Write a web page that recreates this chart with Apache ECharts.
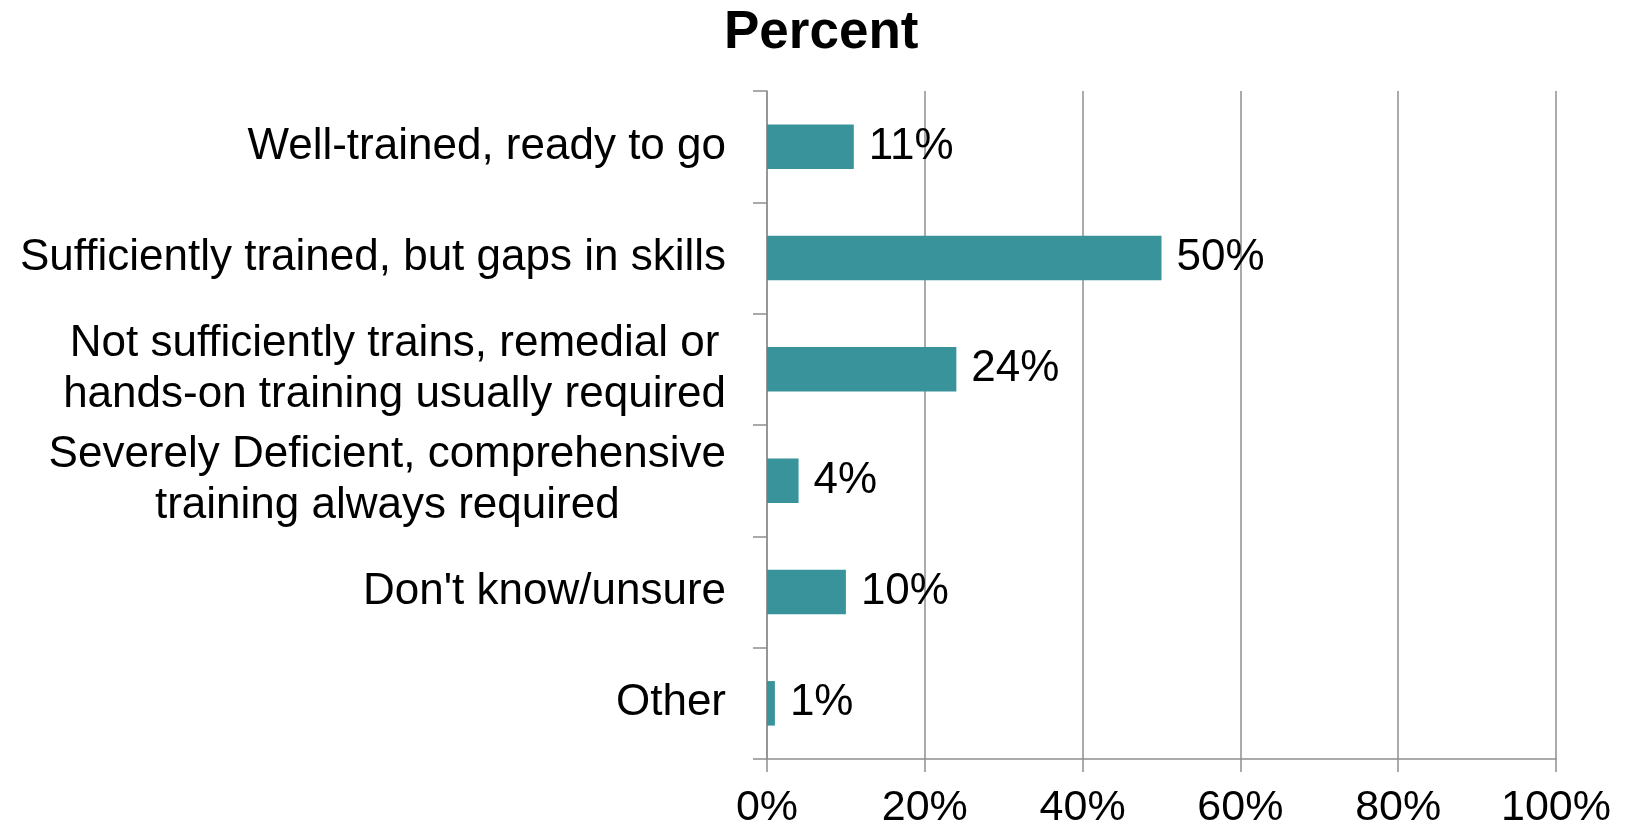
<!DOCTYPE html>
<html>
<head>
<meta charset="utf-8">
<title>Percent</title>
<script src="https://cdn.jsdelivr.net/npm/echarts@6/dist/echarts.min.js"></script>
<style>
  html, body { margin: 0; padding: 0; background: #fff; }
  #chart { width: 1627px; height: 830px; }
</style>
</head>
<body>
<div id="chart"></div>
<script>
// Survey answers, listed top to bottom
const categories = [
  'Well-trained, ready to go',
  'Sufficiently trained, but gaps in skills',
  'Not sufficiently trains, remedial or\nhands-on training usually required',
  'Severely Deficient, comprehensive\ntraining always required',
  "Don't know/unsure",
  'Other'
];
const percentValues = [11, 50, 24, 4, 10, 1];
const chartTitle = 'Percent';

const FONT = '"Liberation Sans", Arial, sans-serif';
const GRID_GRAY = '#8f8f8f';

const chart = echarts.init(document.getElementById('chart'), null, { renderer: 'canvas' });

chart.setOption({
  backgroundColor: '#ffffff',
  animation: false,
  title: {
    text: chartTitle,
    left: 719,
    top: 2,
    textStyle: { fontFamily: FONT, fontSize: 53, fontWeight: 'bold', color: '#000' }
  },
  grid: { left: 767, right: 71, top: 91, bottom: 71, containLabel: false },
  xAxis: {
    type: 'value',
    min: 0,
    max: 100,
    interval: 20,
    axisLine: { show: true, lineStyle: { color: GRID_GRAY, width: 1.5 } },
    axisTick: { show: true, length: 13, lineStyle: { color: GRID_GRAY, width: 1.5 } },
    splitLine: { show: true, lineStyle: { color: GRID_GRAY, width: 1.5 } },
    axisLabel: {
      formatter: '{value}%',
      fontFamily: FONT,
      fontSize: 43,
      color: '#000',
      margin: 28
    }
  },
  yAxis: {
    type: 'category',
    inverse: true,
    data: categories,
    axisLine: { show: true, lineStyle: { color: GRID_GRAY, width: 1.5 } },
    axisTick: { show: true, length: 14, alignWithLabel: false, lineStyle: { color: GRID_GRAY, width: 1.5 } },
    axisLabel: {
      margin: 41,
      formatter: v => v.split('\n').map(line => '{c|' + line + '}').join('\n'),
      rich: {
        c: { fontFamily: FONT, fontSize: 44, color: '#000', align: 'center', lineHeight: 51 }
      }
    }
  },
  series: [{
    type: 'bar',
    data: percentValues,
    barCategoryGap: '60%',
    itemStyle: { color: '#38939a' },
    label: {
      show: true,
      position: 'right',
      distance: 15,
      formatter: '{c}%',
      fontFamily: FONT,
      fontSize: 44,
      color: '#000'
    }
  }]
});
</script>
</body>
</html>
